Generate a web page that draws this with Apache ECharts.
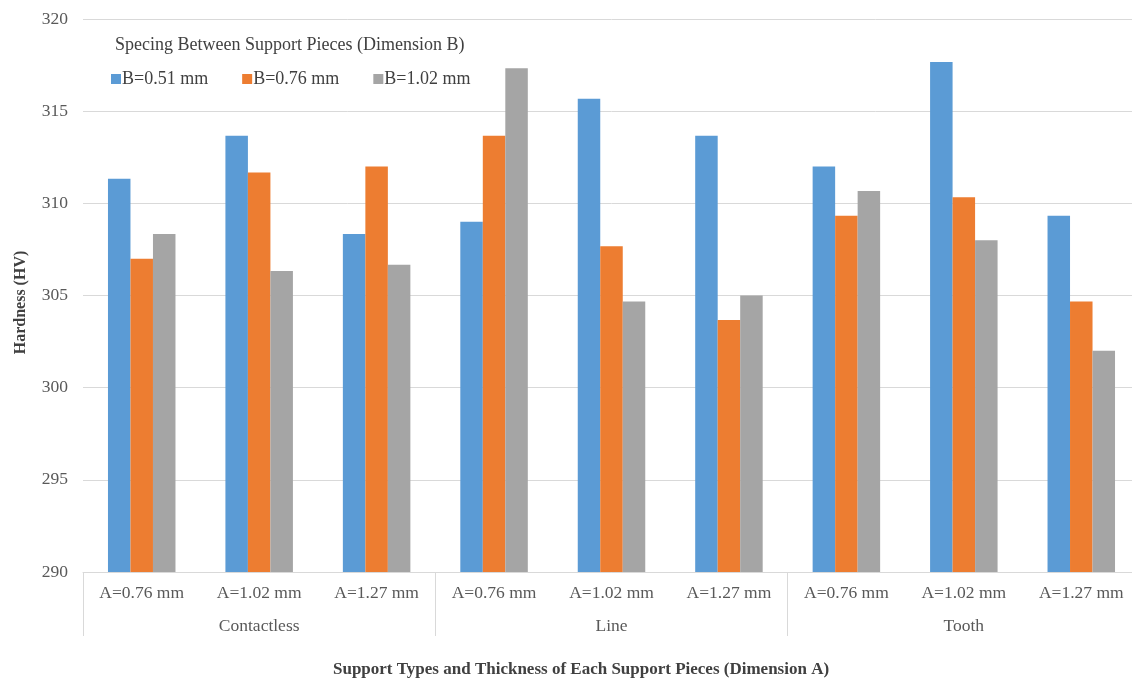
<!DOCTYPE html>
<html>
<head>
<meta charset="utf-8">
<script src="https://cdn.jsdelivr.net/npm/echarts@6/dist/echarts.min.js"></script>
<style>
  html, body { margin: 0; padding: 0; background: #fff; overflow: hidden; }
  #chart { width: 1142px; height: 680px; }
</style>
</head>
<body>
<div id="chart"></div>
<script>
// Thickness of each support piece (Dimension A), grouped by support type
const thicknessLabels = ['A=0.76 mm', 'A=1.02 mm', 'A=1.27 mm', 'A=0.76 mm', 'A=1.02 mm', 'A=1.27 mm', 'A=0.76 mm', 'A=1.02 mm', 'A=1.27 mm'];
const supportTypes = ['Contactless', 'Line', 'Tooth'];
const seriesNames = ['B=0.51 mm', 'B=0.76 mm', 'B=1.02 mm'];

// Hardness (HV) per spacing between support pieces (Dimension B)
const hardnessB051 = [311.33, 313.67, 308.33, 309.0, 315.67, 313.67, 312.0, 317.67, 309.33];
const hardnessB076 = [307.0, 311.67, 312.0, 313.67, 307.67, 303.67, 309.33, 310.33, 304.67];
const hardnessB102 = [308.33, 306.33, 306.67, 317.33, 304.67, 305.0, 310.67, 308.0, 302.0];

const yTicks = { min: 290, max: 320, interval: 5 };

const colors = ['#5B9BD5', '#ED7D31', '#A5A5A5'];
const serif = '"Liberation Serif", "Times New Roman", serif';
const gridLine = '#D9D9D9';

const chart = echarts.init(document.getElementById('chart'), null, { renderer: 'canvas' });

const values = [hardnessB051, hardnessB076, hardnessB102];

chart.setOption({
  animation: false,
  color: colors,
  textStyle: { fontFamily: serif },
  title: [
    {
      text: 'Specing Between Support Pieces (Dimension B)',
      left: 110, top: 31,
      textStyle: { fontFamily: serif, fontSize: 18, fontWeight: 'normal', color: '#404040' }
    },
    {
      text: 'Support Types and Thickness of Each Support Pieces (Dimension A)',
      left: 328, top: 656,
      textStyle: { fontFamily: serif, fontSize: 17, fontWeight: 'bold', color: '#404040' }
    }
  ],
  legend: {
    data: seriesNames,
    left: 106, top: 65,
    icon: 'rect',
    itemWidth: 10, itemHeight: 10,
    itemGap: 34,
    textStyle: { fontFamily: serif, fontSize: 18, color: '#404040', padding: [0, 0, 0, -4] }
  },
  grid: { left: 83, top: 19, width: 1057, height: 553, containLabel: false },
  xAxis: [
    {
      type: 'category',
      data: thicknessLabels,
      position: 'bottom',
      axisLine: { show: true, lineStyle: { color: gridLine, width: 1 } },
      axisTick: {
        show: true,
        length: 64,
        interval: function (index) { return index % 3 === 0; },
        lineStyle: { color: gridLine, width: 1 }
      },
      axisLabel: { fontFamily: serif, fontSize: 17.5, color: '#595959', margin: 12, interval: 0 }
    },
    {
      type: 'category',
      data: supportTypes,
      position: 'bottom',
      offset: 33,
      axisLine: { show: false },
      axisTick: { show: false },
      axisLabel: { fontFamily: serif, fontSize: 17.5, color: '#595959', margin: 12, interval: 0 }
    }
  ],
  yAxis: {
    type: 'value',
    min: yTicks.min, max: yTicks.max, interval: yTicks.interval,
    name: 'Hardness (HV)',
    nameLocation: 'middle',
    nameGap: 54,
    nameRotate: 90,
    nameTextStyle: { fontFamily: serif, fontSize: 16, fontWeight: 'bold', color: '#404040', padding: [0, 14, 0, 0] },
    axisLine: { show: false },
    axisTick: { show: false },
    axisLabel: { fontFamily: serif, fontSize: 17.5, color: '#595959', margin: 15 },
    splitLine: { show: true, lineStyle: { color: gridLine, width: 1 } }
  },
  series: seriesNames.map((name, i) => ({
    name: name,
    type: 'bar',
    xAxisIndex: 0,
    data: values[i],
    barWidth: 22.5,
    barGap: '0%',
    itemStyle: { color: colors[i] }
  }))
});
</script>
</body>
</html>
